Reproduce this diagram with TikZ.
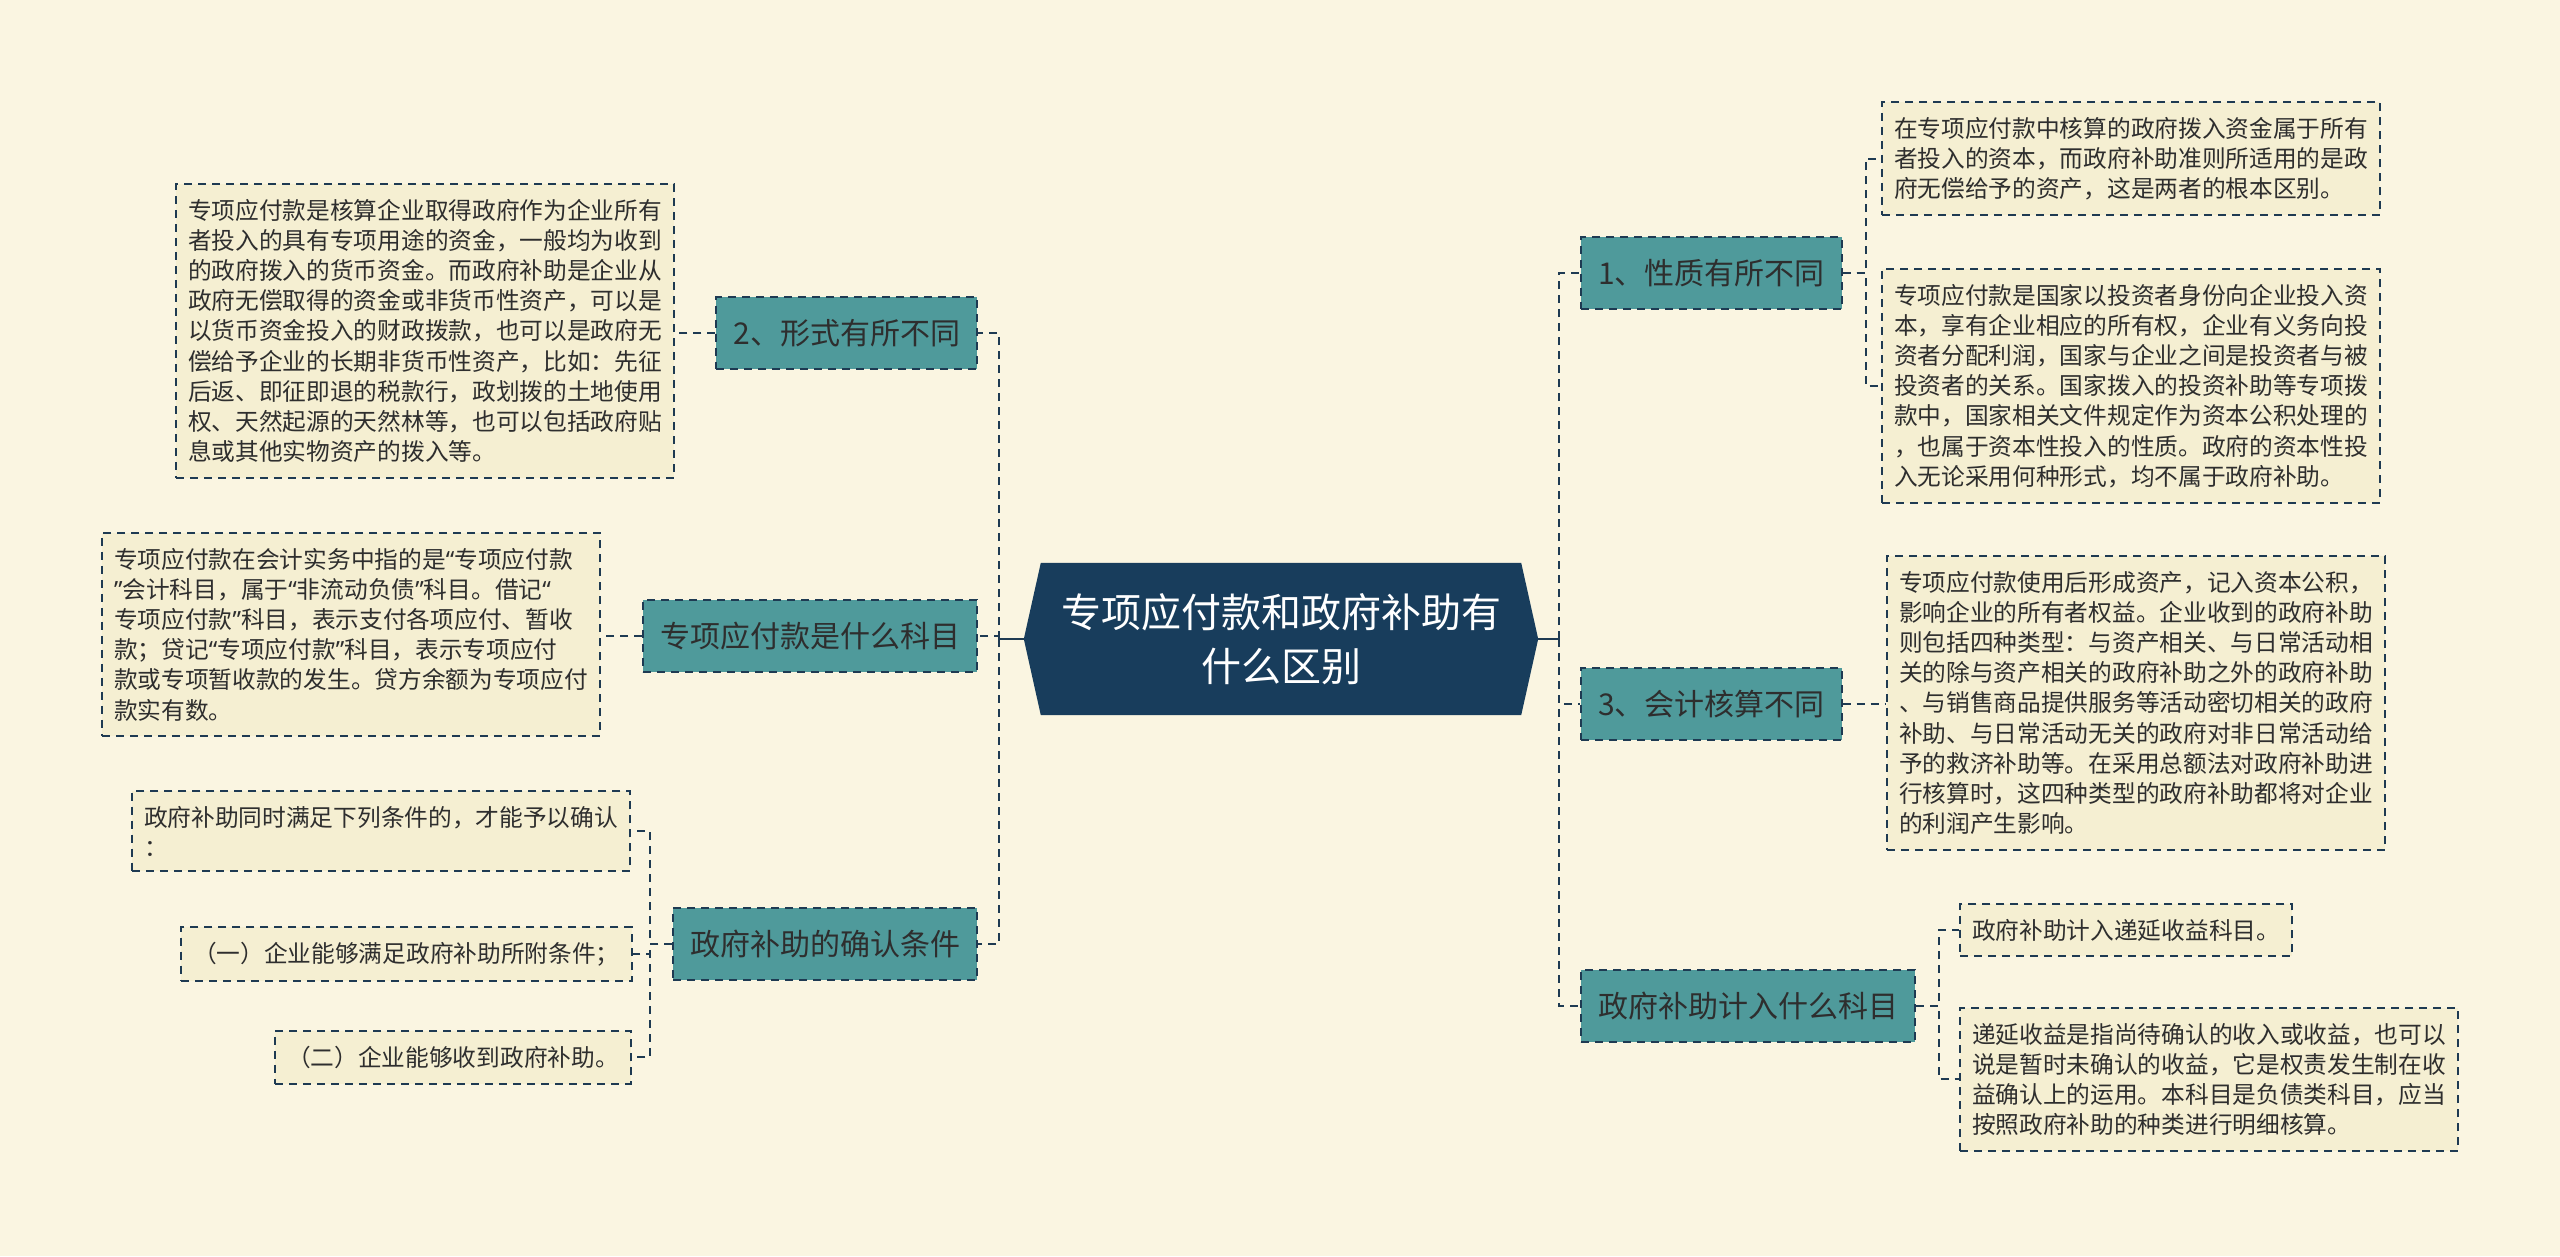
\documentclass[tikz,border=0pt]{standalone}
\usepackage{fontspec}
\setmainfont{Noto Sans CJK SC}
\newfontfamily\quotefont{Noto Sans}
\usetikzlibrary{backgrounds}
\newcommand{\leafsize}{\fontsize{23.7}{30.2}\selectfont}
\newcommand{\branchsize}{\fontsize{30}{36}\selectfont}
\newcommand{\rootsize}{\fontsize{40}{54}\selectfont}
\newcommand{\openq}{{\quotefont “}}
\newcommand{\closeq}{{\quotefont ”}}
\begin{document}
\begin{tikzpicture}[x=1pt, y=-1pt,
  link/.style={draw=edgec, line width=2pt, dash pattern=on 8pt off 6pt},
  branch/.style={link, fill=branchbg, text=darktext, font=\branchsize, inner xsep=17pt, minimum height=72pt},
  leaf/.style={link, fill=leafbg, text=darktext, font=\leafsize, align=left, inner xsep=12pt, inner ysep=15pt, anchor=north west}]
  \definecolor{pagebg}{HTML}{FAF5E1}
  \definecolor{leafbg}{HTML}{F5EFD2}
  \definecolor{branchbg}{HTML}{4F9A9B}
  \definecolor{rootbg}{HTML}{183D5C}
  \definecolor{edgec}{HTML}{1E3A52}
  \definecolor{darktext}{HTML}{2E2E2E}
  \useasboundingbox (0,0) rectangle (2560,1256);
  % centre
  \node [text=white, font=\rootsize, align=center, minimum width=514pt, minimum height=152pt] (root) at (1281,639)
    {专项应付款和政府补助有\\什么区别};
  % left side
  \node [branch, anchor=east] (form) at (978,333) {2、形式有所不同};
  \node [branch, anchor=east] (subj) at (978,636) {专项应付款是什么科目};
  \node [branch, anchor=east] (cond) at (978,944) {政府补助的确认条件};
  \node [leaf] (formtxt) at (175,183) {专项应付款是核算企业取得政府作为企业所有\\者投入的具有专项用途的资金，一般均为收到\\的政府拨入的货币资金。而政府补助是企业从\\政府无偿取得的资金或非货币性资产，可以是\\以货币资金投入的财政拨款，也可以是政府无\\偿给予企业的长期非货币性资产，比如：先征\\后返、即征即退的税款行，政划拨的土地使用\\权、天然起源的天然林等，也可以包括政府贴\\息或其他实物资产的拨入等。};
  \node [leaf] (subjtxt) at (101,532) {专项应付款在会计实务中指的是\openq 专项应付款\\\closeq 会计科目，属于\openq 非流动负债\closeq 科目。借记\openq\\专项应付款\closeq 科目，表示支付各项应付、暂收\\款；贷记\openq 专项应付款\closeq 科目，表示专项应付\\款或专项暂收款的发生。贷方余额为专项应付\\款实有数。};
  \node [leaf] (condhead) at (131,790) {政府补助同时满足下列条件的，才能予以确认\\：};
  \node [leaf] (condone) at (180,926) {（一）企业能够满足政府补助所附条件；};
  \node [leaf] (condtwo) at (274,1030) {（二）企业能够收到政府补助。};
  % right side
  \node [branch, anchor=west] (nature) at (1580,273) {1、性质有所不同};
  \node [branch, anchor=west] (acct) at (1580,704) {3、会计核算不同};
  \node [branch, anchor=west] (entry) at (1580,1006) {政府补助计入什么科目};
  \node [leaf] (naturea) at (1881,101) {在专项应付款中核算的政府拨入资金属于所有\\者投入的资本，而政府补助准则所适用的是政\\府无偿给予的资产，这是两者的根本区别。};
  \node [leaf] (natureb) at (1881,268) {专项应付款是国家以投资者身份向企业投入资\\本，享有企业相应的所有权，企业有义务向投\\资者分配利润，国家与企业之间是投资者与被\\投资者的关系。国家拨入的投资补助等专项拨\\款中，国家相关文件规定作为资本公积处理的\\，也属于资本性投入的性质。政府的资本性投\\入无论采用何种形式，均不属于政府补助。};
  \node [leaf] (accttxt) at (1886,555) {专项应付款使用后形成资产，记入资本公积，\\影响企业的所有者权益。企业收到的政府补助\\则包括四种类型：与资产相关、与日常活动相\\关的除与资产相关的政府补助之外的政府补助\\、与销售商品提供服务等活动密切相关的政府\\补助、与日常活动无关的政府对非日常活动给\\予的救济补助等。在采用总额法对政府补助进\\行核算时，这四种类型的政府补助都将对企业\\的利润产生影响。};
  \node [leaf] (entrya) at (1959,903) {政府补助计入递延收益科目。};
  \node [leaf] (entryb) at (1959,1007) {递延收益是指尚待确认的收入或收益，也可以\\说是暂时未确认的收益，它是权责发生制在收\\益确认上的运用。本科目是负债类科目，应当\\按照政府补助的种类进行明细核算。};
  % connectors
  \coordinate (lspine) at (999,639);
  \coordinate (rspine) at (1559,639);
  \draw [edgec, line width=2pt] (root.west) -- (lspine);
  \draw [edgec, line width=2pt] (root.east) -- (rspine);
  \draw [link] (lspine) |- (form.east);
  \draw [link] (lspine) |- (subj.east);
  \draw [link] (lspine) |- (cond.east);
  \draw [link] (rspine) |- (nature.west);
  \draw [link] (rspine) |- (acct.west);
  \draw [link] (rspine) |- (entry.west);
  \draw [link] (form.west) -- (form.west -| formtxt.east);
  \draw [link] (subj.west) -- (subj.west -| subjtxt.east);
  \draw [link] (cond.west) -- ++(-22,0) |- (condhead.east);
  \draw [link] (cond.west) -- ++(-22,0) |- (condone.east);
  \draw [link] (cond.west) -- ++(-22,0) |- (condtwo.east);
  \draw [link] (nature.east) -- ++(23,0) |- (naturea.west);
  \draw [link] (nature.east) -- ++(23,0) |- (natureb.west);
  \draw [link] (acct.east) -- (acct.east -| accttxt.west);
  \draw [link] (entry.east) -- ++(23,0) |- (entrya.west);
  \draw [link] (entry.east) -- ++(23,0) |- (entryb.west);
  \begin{scope}[on background layer]
    \fill [pagebg] (0,0) rectangle (2560,1256);
    \fill [rootbg] (root.west) -- ([xshift=17pt]root.north west) -- ([xshift=-17pt]root.north east)
      -- (root.east) -- ([xshift=-17pt]root.south east) -- ([xshift=17pt]root.south west) -- cycle;
  \end{scope}
\end{tikzpicture}
\end{document}
